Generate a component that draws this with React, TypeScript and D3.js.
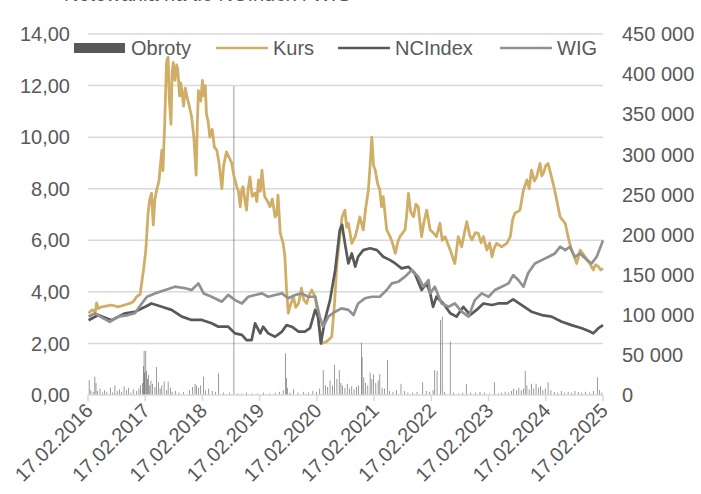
import React from "react";
import * as d3 from "d3";

// chart size, same as the picture
const W = 701, H = 494;
const left = 88, right = 603, top = 34, bottom = 395;

const tickYears = [2016, 2017, 2018, 2019, 2020, 2021, 2022, 2023, 2024, 2025];
const tickLabels = tickYears.map((y) => "17.02." + y);
const leftTicks = [0, 2, 4, 6, 8, 10, 12, 14];
const rightTicks = [0, 50000, 100000, 150000, 200000, 250000, 300000, 350000, 400000, 450000];

// [year as decimal (17.02 = .13), value]
const kurs: [number, number][] = [
  [2016.14, 3.17], [2016.2, 3.3], [2016.26, 3.25], [2016.28, 3.57], [2016.31, 3.35], [2016.34, 3.4],
  [2016.44, 3.45], [2016.54, 3.49], [2016.66, 3.42], [2016.78, 3.5], [2016.86, 3.55], [2016.92, 3.62],
  [2016.98, 3.81], [2017.04, 3.9], [2017.1, 4.85], [2017.14, 5.6], [2017.18, 7.05], [2017.21, 7.6],
  [2017.24, 7.83], [2017.27, 6.6], [2017.3, 7.6], [2017.33, 7.95], [2017.37, 8.3], [2017.42, 9.5],
  [2017.44, 8.7], [2017.47, 10.5], [2017.5, 12.8], [2017.51, 13.0], [2017.53, 13.1], [2017.55, 11.5],
  [2017.58, 10.5], [2017.6, 12.5], [2017.62, 12.9], [2017.65, 12.2], [2017.68, 12.8], [2017.7, 12.6],
  [2017.73, 11.6], [2017.75, 12.1], [2017.77, 11.8], [2017.8, 11.2], [2017.83, 11.9], [2017.86, 11.57],
  [2017.9, 11.2], [2017.94, 10.8], [2017.98, 10.0], [2018.02, 8.53], [2018.04, 10.5], [2018.06, 11.8],
  [2018.1, 11.4], [2018.13, 12.2], [2018.15, 11.6], [2018.18, 12.0], [2018.2, 10.9], [2018.23, 10.6],
  [2018.26, 10.0], [2018.3, 10.3], [2018.34, 9.6], [2018.38, 9.5], [2018.42, 9.0], [2018.47, 8.0],
  [2018.5, 8.9], [2018.55, 9.43], [2018.6, 9.2], [2018.64, 9.0], [2018.68, 8.5], [2018.73, 8.08],
  [2018.76, 7.9], [2018.79, 7.3], [2018.82, 8.0], [2018.84, 8.08], [2018.87, 7.6], [2018.9, 7.17],
  [2018.93, 8.0], [2018.96, 8.46], [2019.0, 7.7], [2019.05, 7.83], [2019.08, 7.5], [2019.11, 8.34],
  [2019.14, 7.9], [2019.17, 8.72], [2019.2, 8.0], [2019.22, 7.69], [2019.27, 7.5], [2019.31, 7.3],
  [2019.35, 7.6], [2019.4, 6.9], [2019.43, 7.0], [2019.45, 7.75], [2019.49, 6.28], [2019.54, 5.88],
  [2019.57, 5.4], [2019.6, 4.07], [2019.63, 3.17], [2019.67, 3.5], [2019.72, 3.81], [2019.76, 3.4],
  [2019.81, 3.55], [2019.86, 4.14], [2019.9, 3.7], [2019.95, 3.55], [2020.0, 3.9], [2020.04, 4.07],
  [2020.1, 3.81], [2020.16, 2.9], [2020.21, 2.0], [2020.3, 2.07], [2020.39, 2.26], [2020.44, 3.6],
  [2020.48, 5.1], [2020.53, 6.14], [2020.57, 6.9], [2020.62, 7.17], [2020.65, 6.5], [2020.68, 6.66],
  [2020.74, 5.88], [2020.8, 6.14], [2020.84, 6.5], [2020.88, 6.91], [2020.94, 6.4], [2020.98, 7.2],
  [2021.03, 7.95], [2021.06, 8.9], [2021.09, 10.0], [2021.12, 8.9], [2021.15, 8.72], [2021.19, 8.2],
  [2021.23, 7.95], [2021.26, 7.3], [2021.29, 7.69], [2021.35, 6.4], [2021.41, 6.14], [2021.45, 5.9],
  [2021.5, 5.49], [2021.54, 5.9], [2021.58, 6.14], [2021.67, 6.4], [2021.7, 7.0], [2021.73, 7.82],
  [2021.77, 7.1], [2021.82, 6.91], [2021.86, 7.4], [2021.9, 7.3], [2021.96, 6.14], [2022.0, 6.7],
  [2022.05, 7.17], [2022.11, 6.4], [2022.16, 6.3], [2022.22, 6.14], [2022.28, 6.66], [2022.32, 6.0],
  [2022.37, 6.14], [2022.46, 5.62], [2022.54, 5.1], [2022.57, 5.6], [2022.6, 6.14], [2022.66, 5.75],
  [2022.7, 6.2], [2022.75, 6.72], [2022.8, 6.2], [2022.84, 6.01], [2022.9, 6.3], [2022.95, 6.27],
  [2023.0, 5.9], [2023.04, 6.14], [2023.1, 5.62], [2023.15, 5.9], [2023.19, 5.36], [2023.23, 5.7],
  [2023.27, 5.88], [2023.36, 5.75], [2023.45, 5.88], [2023.51, 6.14], [2023.55, 6.8], [2023.59, 7.05],
  [2023.68, 7.17], [2023.72, 7.7], [2023.74, 7.95], [2023.8, 8.34], [2023.84, 8.0], [2023.88, 8.72],
  [2023.93, 8.3], [2023.97, 8.46], [2024.03, 8.98], [2024.06, 8.5], [2024.09, 8.6], [2024.13, 8.9],
  [2024.17, 8.98], [2024.23, 8.46], [2024.28, 8.0], [2024.32, 7.56], [2024.38, 6.91], [2024.47, 6.66],
  [2024.52, 6.14], [2024.58, 5.62], [2024.62, 5.4], [2024.67, 5.1], [2024.73, 5.62], [2024.82, 5.36],
  [2024.9, 5.1], [2024.96, 4.85], [2025.0, 5.05], [2025.05, 4.98], [2025.09, 4.85], [2025.13, 4.91],
];

const ncindex: [number, number][] = [
  [2016.14, 2.9], [2016.31, 3.1], [2016.54, 2.9], [2016.78, 3.17], [2016.95, 3.23], [2017.13, 3.42],
  [2017.24, 3.55], [2017.42, 3.42], [2017.59, 3.3], [2017.77, 3.04], [2017.94, 2.91], [2018.12, 2.91],
  [2018.29, 2.78], [2018.41, 2.65], [2018.58, 2.65], [2018.7, 2.39], [2018.82, 2.33], [2018.9, 2.13],
  [2018.99, 2.13], [2019.05, 2.78], [2019.14, 2.39], [2019.19, 2.65], [2019.28, 2.39], [2019.4, 2.26],
  [2019.52, 2.46], [2019.6, 2.71], [2019.69, 2.65], [2019.81, 2.46], [2019.92, 2.46], [2020.01, 2.59],
  [2020.1, 3.3], [2020.15, 3.04], [2020.2, 2.0], [2020.27, 2.91], [2020.36, 3.68], [2020.45, 4.85],
  [2020.53, 6.4], [2020.57, 6.6], [2020.62, 5.88], [2020.68, 5.1], [2020.74, 5.49], [2020.8, 4.98],
  [2020.85, 5.36], [2020.94, 5.62], [2021.06, 5.69], [2021.18, 5.62], [2021.29, 5.36], [2021.41, 5.23],
  [2021.5, 5.1], [2021.61, 4.91], [2021.73, 4.97], [2021.84, 4.72], [2021.96, 4.07], [2022.05, 4.33],
  [2022.11, 3.94], [2022.16, 3.42], [2022.22, 3.81], [2022.34, 3.55], [2022.46, 3.17], [2022.57, 3.04],
  [2022.69, 3.42], [2022.81, 3.1], [2022.92, 3.3], [2023.04, 3.55], [2023.19, 3.49], [2023.3, 3.55],
  [2023.45, 3.55], [2023.56, 3.71], [2023.71, 3.49], [2023.88, 3.23], [2024.06, 3.1], [2024.23, 3.04],
  [2024.41, 2.84], [2024.58, 2.71], [2024.76, 2.59], [2024.9, 2.46], [2024.96, 2.39], [2025.05, 2.59],
  [2025.13, 2.71],
];

const wig: [number, number][] = [
  [2016.14, 3.04], [2016.25, 3.17], [2016.4, 2.97], [2016.51, 2.84], [2016.66, 3.04], [2016.83, 3.1],
  [2016.95, 3.17], [2017.07, 3.55], [2017.16, 3.81], [2017.3, 3.94], [2017.48, 4.07], [2017.65, 4.2],
  [2017.83, 4.14], [2017.94, 4.07], [2018.06, 4.33], [2018.15, 3.94], [2018.29, 3.81], [2018.47, 3.62],
  [2018.58, 3.88], [2018.7, 3.68], [2018.82, 3.55], [2018.93, 3.81], [2019.05, 3.88], [2019.17, 3.94],
  [2019.28, 3.81], [2019.4, 3.88], [2019.52, 3.94], [2019.63, 3.75], [2019.75, 3.88], [2019.86, 3.94],
  [2019.98, 3.81], [2020.1, 3.81], [2020.18, 3.04], [2020.24, 2.65], [2020.33, 3.04], [2020.45, 3.23],
  [2020.56, 3.36], [2020.68, 3.3], [2020.77, 3.1], [2020.85, 3.55], [2020.97, 3.75], [2021.09, 3.81],
  [2021.23, 3.81], [2021.35, 4.07], [2021.44, 4.33], [2021.55, 4.39], [2021.67, 4.59], [2021.79, 4.85],
  [2021.9, 4.59], [2021.99, 4.2], [2022.08, 4.46], [2022.11, 3.94], [2022.19, 4.2], [2022.31, 3.55],
  [2022.43, 3.42], [2022.54, 3.55], [2022.66, 3.23], [2022.78, 3.04], [2022.89, 3.68], [2023.01, 3.94],
  [2023.13, 3.81], [2023.24, 4.07], [2023.36, 4.2], [2023.48, 4.33], [2023.56, 4.65], [2023.65, 4.46],
  [2023.74, 4.2], [2023.82, 4.72], [2023.94, 5.1], [2024.06, 5.23], [2024.18, 5.36], [2024.29, 5.49],
  [2024.38, 5.75], [2024.47, 5.62], [2024.55, 5.75], [2024.64, 5.36], [2024.73, 5.49], [2024.85, 5.23],
  [2024.93, 5.1], [2025.02, 5.36], [2025.11, 5.88], [2025.13, 6.0],
];

const obroty: [number, number][] = [
  [2016.15, 18700], [2016.18, 6000], [2016.22, 4000], [2016.25, 22900], [2016.27, 15000], [2016.3, 5000],
  [2016.34, 8000], [2016.38, 3000], [2016.42, 6000], [2016.46, 4000], [2016.52, 9000], [2016.56, 3000],
  [2016.6, 12000], [2016.64, 5000], [2016.68, 7000], [2016.72, 4000], [2016.76, 11000], [2016.8, 6000],
  [2016.84, 9000], [2016.88, 3000], [2016.92, 7000], [2016.98, 5000], [2017.02, 8000], [2017.05, 12000],
  [2017.08, 15000], [2017.1, 36000], [2017.11, 55000], [2017.12, 28000], [2017.14, 55000], [2017.15, 30000],
  [2017.17, 20000], [2017.19, 25000], [2017.21, 12000], [2017.23, 18000], [2017.26, 14000], [2017.3, 10000],
  [2017.33, 35000], [2017.36, 16000], [2017.39, 8000], [2017.42, 12000], [2017.46, 17000], [2017.5, 6000],
  [2017.53, 16500], [2017.57, 9000], [2017.6, 4000], [2017.66, 5000], [2017.72, 3000], [2017.8, 4000],
  [2017.9, 6000], [2017.96, 10000], [2018.0, 14000], [2018.03, 12000], [2018.06, 9000], [2018.1, 12000],
  [2018.15, 22800], [2018.18, 6000], [2018.24, 8000], [2018.3, 5000], [2018.36, 4000], [2018.41, 27000],
  [2018.5, 3000], [2018.6, 3000], [2018.68, 385000], [2018.75, 2000], [2018.82, 2000], [2018.9, 3000],
  [2019.0, 2000], [2019.1, 2000], [2019.2, 3000], [2019.3, 2000], [2019.4, 3000], [2019.48, 4000],
  [2019.54, 6000], [2019.58, 52000], [2019.6, 21000], [2019.62, 9000], [2019.66, 3000], [2019.72, 7000],
  [2019.8, 3000], [2019.9, 4000], [2019.98, 3000], [2020.06, 5000], [2020.12, 4000], [2020.18, 8000],
  [2020.24, 31000], [2020.28, 12000], [2020.32, 10000], [2020.36, 18000], [2020.4, 12000], [2020.44, 37400],
  [2020.48, 20000], [2020.52, 31000], [2020.55, 15000], [2020.58, 12000], [2020.62, 9000], [2020.66, 14000],
  [2020.7, 8000], [2020.74, 11000], [2020.78, 7000], [2020.82, 10000], [2020.86, 12000], [2020.91, 65000],
  [2020.92, 47000], [2020.95, 22000], [2020.98, 15000], [2021.02, 12000], [2021.06, 28000], [2021.09, 20000],
  [2021.12, 26000], [2021.16, 15000], [2021.2, 18000], [2021.23, 26000], [2021.27, 9000], [2021.31, 8000],
  [2021.36, 43600], [2021.4, 5000], [2021.46, 4000], [2021.52, 6000], [2021.6, 14000], [2021.66, 5000],
  [2021.72, 3000], [2021.8, 3000], [2021.88, 4000], [2021.98, 16000], [2022.04, 5000], [2022.1, 4000],
  [2022.16, 6000], [2022.19, 31000], [2022.23, 30000], [2022.29, 93500], [2022.32, 97600], [2022.36, 4000],
  [2022.46, 66500], [2022.52, 3000], [2022.6, 2000], [2022.68, 3000], [2022.74, 14000], [2022.82, 3000],
  [2022.9, 3000], [2022.98, 4000], [2023.06, 3000], [2023.15, 2000], [2023.23, 16000], [2023.3, 2000],
  [2023.36, 3000], [2023.42, 4000], [2023.48, 3000], [2023.53, 5000], [2023.57, 8000], [2023.62, 6000],
  [2023.66, 9000], [2023.7, 6000], [2023.74, 8000], [2023.77, 30000], [2023.8, 12000], [2023.84, 7000],
  [2023.88, 14000], [2023.92, 8000], [2023.96, 14000], [2024.0, 9000], [2024.04, 11000], [2024.08, 6000],
  [2024.12, 8000], [2024.17, 16000], [2024.22, 6000], [2024.28, 4000], [2024.34, 3000], [2024.4, 5000],
  [2024.46, 3000], [2024.52, 4000], [2024.58, 3000], [2024.64, 5000], [2024.7, 4000], [2024.76, 3000],
  [2024.82, 4000], [2024.9, 3000], [2024.96, 5000], [2025.03, 22000], [2025.07, 6000], [2025.11, 3000],
];

const colors: Record<string, string> = {
  Obroty: "#595959",
  Kurs: "#D0AE67",
  NCIndex: "#595959",
  WIG: "#919191",
};

const textColor = "#595959";
const gridColor = "#D9D9D9";
const font = "'Liberation Sans', Arial, sans-serif";

export default function App() {
  const x = d3.scaleLinear().domain([2016.13, 2025.13]).range([left, right]);
  const yL = d3.scaleLinear().domain([0, 14]).range([bottom, top]);
  const yR = d3.scaleLinear().domain([0, 450000]).range([bottom, top]);

  const line = d3
    .line<[number, number]>()
    .x((d) => x(d[0]))
    .y((d) => yL(d[1]));

  const fmtL = (v: number) => v.toFixed(2).replace(".", ",");
  const fmtR = (v: number) => d3.format(",")(v).replace(/,/g, " ");

  // legend positions
  const legend = [
    { name: "Obroty", x0: 74, kind: "rect" },
    { name: "Kurs", x0: 216, kind: "line" },
    { name: "NCIndex", x0: 338, kind: "line" },
    { name: "WIG", x0: 500, kind: "line" },
  ];

  return (
    <svg
      width={W}
      height={H}
      style={{ position: "absolute", left: 0, top: 0, background: "#fff" }}
      fontFamily={font}
    >
      <rect width={W} height={H} fill="#fff" />
      {/* title, cut by the top edge as in the picture */}
      <text x={64} y={1} fontSize={20} fill={textColor}>
        Notowania na tle NCIndex i WIG
      </text>

      {/* gridlines */}
      {leftTicks.slice(1).map((t) => (
        <line key={t} x1={left} x2={right} y1={yL(t)} y2={yL(t)} stroke={gridColor} strokeWidth={1.5} />
      ))}

      {/* volume bars */}
      {obroty.map((d, i) => (
        <rect
          key={i}
          x={x(d[0]) - 0.3}
          y={yR(d[1])}
          width={0.6}
          height={bottom - yR(d[1])}
          fill={colors.Obroty}
        />
      ))}

      {/* x axis */}
      <line x1={left} x2={right} y1={bottom} y2={bottom} stroke={gridColor} strokeWidth={1.5} />
      {tickYears.map((yr, i) => {
        const px = x(yr + 0.13);
        return (
          <g key={yr}>
            <line x1={px} x2={px} y1={bottom} y2={bottom + 6} stroke={gridColor} strokeWidth={1.5} />
            <text
              transform={`translate(${px + 6},${bottom + 17}) rotate(-45)`}
              textAnchor="end"
              fontSize={20}
              fill={textColor}
            >
              {tickLabels[i]}
            </text>
          </g>
        );
      })}

      {/* lines */}
      <path d={line(kurs) || ""} fill="none" stroke={colors.Kurs} strokeWidth={2.8} strokeLinejoin="round" />
      <path d={line(ncindex) || ""} fill="none" stroke={colors.NCIndex} strokeWidth={2.7} strokeLinejoin="round" />
      <path d={line(wig) || ""} fill="none" stroke={colors.WIG} strokeWidth={2.7} strokeLinejoin="round" />

      {/* left axis labels */}
      {leftTicks.map((t) => (
        <text key={t} x={70} y={yL(t)} dy="0.36em" textAnchor="end" fontSize={20} fill={textColor}>
          {fmtL(t)}
        </text>
      ))}
      {/* right axis labels */}
      {rightTicks.map((t) => (
        <text key={t} x={622} y={yR(t)} dy="0.36em" textAnchor="start" fontSize={20} fill={textColor}>
          {fmtR(t)}
        </text>
      ))}

      {/* legend */}
      {legend.map((l) => (
        <g key={l.name}>
          {l.kind === "rect" ? (
            <rect x={l.x0} y={43} width={51} height={10} fill={colors[l.name]} />
          ) : (
            <line x1={l.x0} x2={l.x0 + 52} y1={48} y2={48} stroke={colors[l.name]} strokeWidth={2.6} />
          )}
          <text x={l.x0 + 57} y={55} fontSize={20} fill={textColor}>
            {l.name}
          </text>
        </g>
      ))}
    </svg>
  );
}
